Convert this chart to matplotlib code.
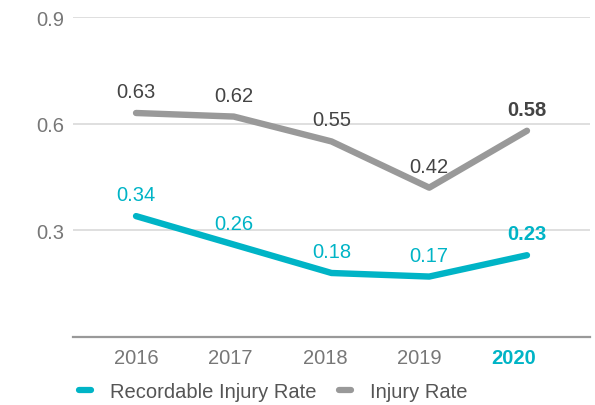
import matplotlib
matplotlib.use("Agg")
import matplotlib.pyplot as plt
from matplotlib.lines import Line2D

years = ["2016", "2017", "2018", "2019", "2020"]
recordable = [0.34, 0.26, 0.18, 0.17, 0.23]
injury = [0.63, 0.62, 0.55, 0.42, 0.58]
yticks = [0.3, 0.6, 0.9]

TEAL = "#00b4c6"
GRAY = "#999999"
DARK = "#444444"
TICK = "#777777"
FS = 14.5

plt.rcParams["font.family"] = ["Liberation Sans", "DejaVu Sans"]

W, H = 595, 406
fig = plt.figure(figsize=(W / 100, H / 100), dpi=100)
l, r, b, t = 73, 590, 338, 18
ax = fig.add_axes([l / W, (H - b) / H, (r - l) / W, (b - t) / H])

x = list(range(len(years)))
lw = 4.6
ax.plot(x, injury, color=GRAY, lw=lw, solid_capstyle="round", solid_joinstyle="round", zorder=3, clip_on=False)
ax.plot(x, recordable, color=TEAL, lw=lw, solid_capstyle="round", solid_joinstyle="round", zorder=3, clip_on=False)

n = len(years)
for i, (a, c) in enumerate(zip(injury, recordable)):
    bold = "bold" if i == n - 1 else "normal"
    ax.annotate(f"{a:.2f}", (i, a), xytext=(0, 15.5), textcoords="offset points",
                ha="center", va="center", fontsize=FS, color=DARK, fontweight=bold)
    ax.annotate(f"{c:.2f}", (i, c), xytext=(0, 15.5), textcoords="offset points",
                ha="center", va="center", fontsize=FS, color=TEAL, fontweight=bold)

ax.set_xlim(-0.645, n - 1 + 0.645)
ax.set_ylim(0, 0.9)
ax.set_yticks(yticks)
ax.set_yticklabels([f"{v:.1f}" for v in yticks])
ax.grid(axis="y", color="#d9d9d9", lw=1.2)
ax.set_axisbelow(True)
ax.tick_params(axis="y", length=0, pad=6, labelsize=FS, labelcolor=TICK)
# category labels sit slightly tighter than the data points in the reference
ax.set_xticks([i * 0.967 for i in x])
ax.set_xticklabels(years)
ax.tick_params(axis="x", length=0, pad=8, labelsize=FS, labelcolor=TICK)
for lab in ax.get_xticklabels()[-1:]:
    lab.set_color(TEAL)
    lab.set_fontweight("bold")
for s in ["top", "right", "left"]:
    ax.spines[s].set_visible(False)
ax.spines["bottom"].set_color("#999999")
ax.spines["bottom"].set_linewidth(1.6)

handles = [Line2D([], [], color=TEAL, lw=4.5, solid_capstyle="round"),
           Line2D([], [], color=GRAY, lw=4.5, solid_capstyle="round")]
fig.legend(handles, ["Recordable Injury Rate", "Injury Rate"], loc="center left",
           bbox_to_anchor=(61 / W, 1 - 393 / H), ncol=2, frameon=False,
           handlelength=0.6, handletextpad=0.95, columnspacing=1.1,
           fontsize=FS, labelcolor="#555555")

fig.savefig("out.png", dpi=100)
